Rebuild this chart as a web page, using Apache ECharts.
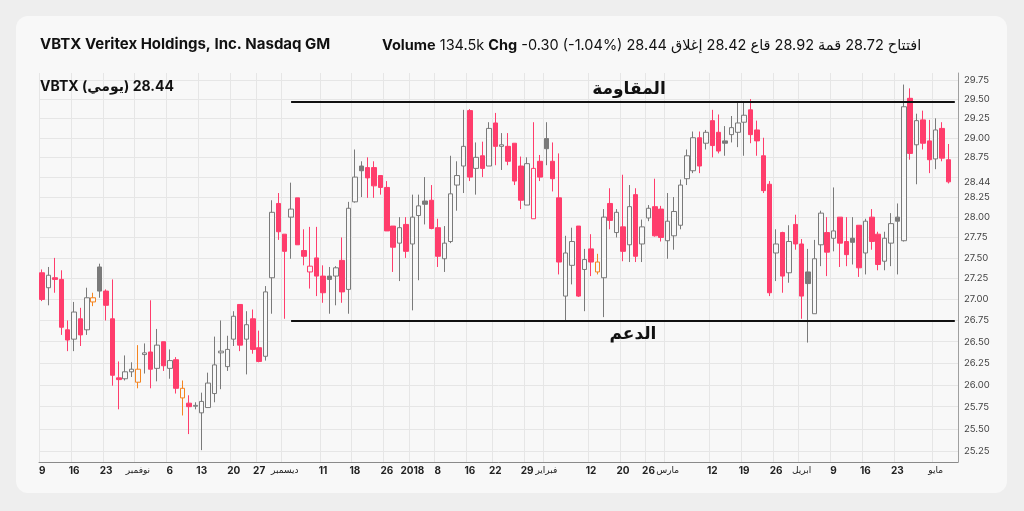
<!DOCTYPE html>
<html>
<head>
<meta charset="utf-8">
<script src="https://cdn.jsdelivr.net/npm/echarts@6/dist/echarts.min.js"></script>
<style>
  html, body { margin: 0; padding: 0; background: #eeeeee; }
  #chart { width: 1024px; height: 511px; }
</style>
</head>
<body>
<div id="chart"></div>
<script>
// market holidays inside the range (NYSE)
const holidays = ['2017-11-23', '2017-12-25', '2018-01-01', '2018-01-15', '2018-02-19', '2018-03-30'];

function tradingDays(from, to) {
  const out = [];
  const d = new Date(from + 'T00:00:00Z');
  const end = new Date(to + 'T00:00:00Z');
  while (d <= end) {
    const s = d.toISOString().slice(0, 10);
    const wd = d.getUTCDay();
    if (wd !== 0 && wd !== 6 && holidays.indexOf(s) < 0) out.push(s);
    d.setUTCDate(d.getUTCDate() + 1);
  }
  return out;
}

// last day (May 4) is an empty slot at the right edge
const dates = tradingDays('2017-10-09', '2018-05-04');

const opens = [
  27.32, 27.14, 27.26, 27.24, 26.64, 26.53, 26.77, 26.64, 26.97, 27.39,
  27.10, 26.77, 26.08, 26.07, 26.15, 26.03, 26.35, 26.38, 26.19, 26.50,
  26.19, 26.29, 25.85, 25.79, 25.755, 25.68, 25.74, 25.90, 26.37, 26.21,
  26.53, 26.94, 26.53, 26.77, 26.43, 26.33, 27.26, 28.17, 27.79, 28.00,
  28.24, 27.59, 27.33, 27.50, 27.28, 27.28, 27.28, 27.47, 27.12, 28.19,
  28.64, 28.62, 28.62, 28.52, 28.37, 27.89, 27.68, 27.91, 27.67, 28.02,
  28.20, 28.21, 27.87, 27.49, 27.70, 28.40, 28.64, 29.35, 28.61, 28.77,
  28.64, 29.19, 28.89, 28.89, 28.93, 28.64, 28.15, 27.98, 28.70, 28.99,
  28.70, 28.24, 27.04, 27.41, 27.89, 27.36, 27.61, 27.33, 27.26, 28.17,
  27.81, 27.88, 27.66, 28.28, 27.67, 27.99, 28.13, 28.10, 27.71, 27.77,
  27.90, 28.48, 28.58, 29.00, 28.93, 29.22, 29.07, 28.96, 29.04, 29.07,
  29.20, 29.36, 29.10, 28.77, 28.41, 27.56, 27.81, 27.32, 27.91, 27.67,
  27.33, 26.83, 27.66, 27.81, 27.74, 28.00, 27.70, 27.74, 27.90, 27.56,
  28.00, 27.79, 27.46, 27.68, 28.00, 27.71, 29.51, 28.91, 29.23, 28.96,
  28.73, 29.12, 28.72
];
const closes = [
  27.00, 27.29, 27.24, 26.67, 26.52, 26.85, 26.58, 27.02, 27.02, 27.10,
  26.93, 26.11, 26.06, 26.15, 26.18, 26.18, 26.37, 26.18, 26.46, 26.22,
  26.28, 25.96, 25.96, 25.75, 25.765, 25.81, 26.02, 26.23, 26.39, 26.41,
  26.80, 26.46, 26.70, 26.41, 26.27, 27.09, 28.06, 27.82, 27.58, 28.10,
  27.66, 27.52, 27.40, 27.28, 27.08, 27.24, 27.38, 27.09, 28.11, 28.50,
  28.58, 28.49, 28.39, 28.37, 27.83, 27.63, 27.87, 27.58, 28.00, 28.14,
  28.16, 27.86, 27.52, 27.68, 28.29, 28.52, 28.89, 28.50, 28.75, 28.61,
  29.12, 28.89, 28.91, 28.70, 28.45, 28.21, 28.67, 28.61, 28.50, 28.86,
  28.48, 27.45, 27.56, 27.70, 27.04, 27.48, 27.45, 27.45, 28.00, 27.96,
  28.06, 27.58, 28.13, 27.52, 27.88, 28.11, 27.77, 27.75, 27.95, 28.07,
  28.40, 28.77, 29.00, 28.64, 29.07, 28.90, 28.83, 28.93, 29.13, 29.19,
  29.29, 29.04, 28.96, 28.33, 27.08, 27.67, 27.28, 27.70, 27.67, 27.04,
  27.19, 27.49, 28.05, 27.57, 27.83, 27.68, 27.54, 27.69, 27.38, 27.95,
  27.70, 27.42, 27.74, 27.92, 27.95, 29.40, 28.80, 29.22, 28.93, 28.72,
  29.10, 28.74, 28.44
];
const lows = [
  26.98, 26.93, 27.08, 26.58, 26.39, 26.39, 26.45, 26.58, 26.92, 27.02,
  26.75, 25.99, 25.72, 26.05, 26.09, 25.96, 26.13, 25.96, 26.04, 26.16,
  26.07, 25.90, 25.65, 25.44, 25.72, 25.26, 25.74, 25.80, 25.95, 26.16,
  26.45, 26.39, 26.12, 26.36, 26.26, 26.28, 26.83, 27.72, 26.77, 27.49,
  27.66, 27.41, 27.13, 27.04, 26.96, 26.83, 26.93, 26.96, 26.83, 28.18,
  28.25, 28.24, 28.24, 28.28, 27.83, 27.33, 27.22, 27.50, 26.87, 27.23,
  27.91, 27.85, 27.39, 27.33, 27.68, 28.08, 28.30, 28.45, 28.28, 28.50,
  28.64, 28.65, 28.59, 28.65, 28.40, 28.10, 28.15, 27.98, 28.45, 28.65,
  28.32, 27.30, 26.75, 27.18, 27.03, 26.86, 27.28, 27.30, 26.79, 27.85,
  27.75, 27.46, 27.45, 27.45, 27.45, 27.95, 27.76, 27.70, 27.49, 27.60,
  27.85, 28.40, 28.55, 28.55, 28.85, 28.75, 28.80, 28.77, 28.94, 28.88,
  28.77, 28.93, 28.77, 28.30, 27.04, 27.22, 27.08, 27.20, 27.60, 26.77,
  26.49, 26.83, 27.40, 27.28, 27.58, 27.39, 27.40, 27.42, 27.27, 27.30,
  27.60, 27.35, 27.35, 27.40, 27.30, 27.70, 28.72, 28.41, 28.85, 28.55,
  28.60, 28.70, 28.42
];
const highs = [
  27.36, 27.39, 27.50, 27.35, 26.75, 26.97, 26.90, 27.14, 27.08, 27.43,
  27.12, 27.24, 26.27, 26.34, 26.26, 26.46, 26.48, 26.99, 26.65, 26.50,
  26.41, 26.32, 26.05, 25.88, 25.80, 25.91, 26.14, 26.56, 26.75, 26.57,
  26.86, 26.94, 26.86, 26.88, 26.63, 27.16, 28.21, 28.30, 27.79, 28.43,
  28.24, 27.85, 27.88, 27.88, 27.41, 27.39, 27.40, 27.75, 28.19, 28.85,
  28.70, 28.75, 28.70, 28.52, 28.45, 27.89, 28.00, 28.00, 28.28, 28.28,
  28.50, 28.40, 27.98, 27.89, 28.77, 28.70, 29.36, 29.37, 28.94, 28.95,
  29.20, 29.32, 29.06, 29.06, 28.93, 28.76, 28.75, 29.20, 28.78, 29.20,
  28.94, 28.80, 27.77, 27.87, 27.89, 27.61, 27.79, 27.55, 28.10, 28.36,
  28.10, 28.53, 28.40, 28.36, 27.97, 28.15, 28.48, 28.14, 28.30, 28.25,
  28.47, 28.85, 29.08, 29.08, 29.10, 29.36, 29.30, 29.15, 29.28, 29.47,
  29.47, 29.50, 29.22, 29.00, 28.45, 27.85, 27.82, 27.90, 28.03, 27.73,
  27.61, 27.72, 28.08, 28.00, 28.37, 28.00, 28.00, 28.00, 27.90, 27.98,
  28.10, 27.82, 27.82, 28.05, 28.17, 29.69, 29.64, 29.31, 29.35, 29.23,
  29.25, 29.20, 28.92
];

// y grid levels; 28.50 label gives way to the last close
const priceTicks = [25.25, 25.5, 25.75, 26, 26.25, 26.5, 26.75, 27, 27.25, 27.5,
  27.75, 28, 28.25, 28.5, 28.75, 29, 29.25, 29.5, 29.75];
const priceLabels = [25.25, 25.5, 25.75, 26, 26.25, 26.5, 26.75, 27, 27.25, 27.5,
  27.75, 28, 28.25, 28.44, 28.75, 29, 29.25, 29.5, 29.75];
const resistance = 29.46;
const support = 26.75;

// x labels: weekly dates, month names at the start of a month
const tickDates = ['2017-10-09', '2017-10-16', '2017-10-23', '2017-10-30', '2017-11-06',
  '2017-11-13', '2017-11-20', '2017-11-27', '2017-12-01', '2017-12-11', '2017-12-18',
  '2017-12-26', '2018-01-02', '2018-01-08', '2018-01-16', '2018-01-22', '2018-01-29',
  '2018-02-01', '2018-02-12', '2018-02-20', '2018-02-26', '2018-03-01', '2018-03-12',
  '2018-03-19', '2018-03-26', '2018-04-02', '2018-04-09', '2018-04-16', '2018-04-23',
  '2018-05-01'];
const tickLabels = ['9', '16', '23', 'نوفمبر', '6', '13', '20', '27', 'ديسمبر', '11', '18',
  '26', '2018', '8', '16', '22', '29', 'فبراير', '12', '20', '26', 'مارس', '12', '19', '26',
  'ابريل', '9', '16', '23', 'مايو'];

const RED = '#ff3d6c', GRAY = '#7a7a7a', ORANGE = '#f5841f', BG = '#f8f8f8';
const FONT = 'Inter, "Noto Sans", "DejaVu Sans", sans-serif';

// hollow = close above open; colour = against previous close
function styleFor(i) {
  const o = opens[i], c = closes[i];
  const prev = i > 0 ? closes[i - 1] : o;
  const stroke = c === prev ? ORANGE : (c > prev ? GRAY : RED);
  const fill = c >= o ? BG : stroke;
  return { color: fill, color0: fill, borderColor: stroke, borderColor0: stroke, borderWidth: 1 };
}

const candles = dates.map((d, i) => i < opens.length
  ? { value: [opens[i], closes[i], lows[i], highs[i]], itemStyle: styleFor(i) }
  : '-');

const isTick = (idx, val) => tickDates.indexOf(val) >= 0;

const chart = echarts.init(document.getElementById('chart'));
chart.setOption({
  backgroundColor: '#eeeeee',
  animation: false,
  graphic: [{
    type: 'rect', z: -10, silent: true,
    shape: { x: 16, y: 16, width: 991, height: 477, r: 12 },
    style: { fill: BG }
  }],
  title: [{
    left: 35, top: 32,
    text: 'VBTX Veritex Holdings, Inc. Nasdaq GM',
    textStyle: { fontFamily: FONT, fontSize: 15, fontWeight: 'bold', color: '#111' }
  }, {
    left: 377, top: 33,
    text: '{b|Volume} 134.5k {b|Chg} -0.30 (-1.04%) افتتاح 28.72 قمة 28.92 قاع 28.42 إغلاق 28.44',
    textStyle: {
      fontFamily: FONT, fontSize: 14.5, fontWeight: 'normal', color: '#111',
      rich: { b: { fontFamily: FONT, fontSize: 14.5, fontWeight: 'bold', color: '#111' } }
    }
  }, {
    left: 35, top: 75,
    text: 'VBTX (يومي) 28.44',
    textStyle: { fontFamily: FONT, fontSize: 14, fontWeight: 'bold', color: '#111' }
  }],
  grid: { left: 39, right: 66, top: 73, bottom: 49 },
  xAxis: {
    type: 'category',
    data: dates,
    boundaryGap: true,
    axisLine: { lineStyle: { color: '#8a8a8a', width: 1 } },
    axisTick: { interval: isTick, alignWithLabel: true, length: 3, lineStyle: { color: '#8a8a8a' } },
    axisLabel: {
      interval: isTick,
      formatter: v => {
        const t = tickLabels[tickDates.indexOf(v)];
        return /[0-9]/.test(t) ? t : '{ar|' + t + '}';
      },
      fontFamily: FONT, fontSize: 10, fontWeight: 'bold', color: '#222', margin: 4,
      rich: { ar: { fontFamily: FONT, fontSize: 9, fontWeight: 'normal', color: '#222' } }
    },
    splitLine: { show: true, interval: isTick, lineStyle: { color: '#e6e6e6' } }
  },
  yAxis: {
    type: 'log',
    logBase: 10,
    min: 25.128,
    max: 29.842,
    position: 'right',
    axisLine: { show: true, lineStyle: { color: '#a0a0a0' } },
    axisTick: { show: false, customValues: priceTicks },
    axisLabel: {
      customValues: priceLabels,
      formatter: v => (+v).toFixed(2),
      fontFamily: FONT, fontSize: 9.5, color: '#444', margin: 6
    },
    splitLine: { show: true, lineStyle: { color: '#e6e6e6' } }
  },
  series: [{
    type: 'candlestick',
    data: candles,
    barWidth: 5,
    markLine: {
      silent: true,
      symbol: 'none',
      lineStyle: { color: '#111', width: 2, type: 'solid' },
      label: { fontFamily: FONT, fontSize: 17, fontWeight: 'bold', color: '#111' },
      data: [
        [{ coord: [dates[39], resistance], label: { formatter: 'المقاومة', position: 'insideMiddleTop', offset: [6, 0] } },
         { coord: [dates[dates.length - 1], resistance] }],
        [{ coord: [dates[39], support], label: { formatter: 'الدعم', position: 'insideMiddleBottom', offset: [10, 0] } },
         { coord: [dates[dates.length - 1], support] }]
      ]
    }
  }]
});
</script>
</body>
</html>
